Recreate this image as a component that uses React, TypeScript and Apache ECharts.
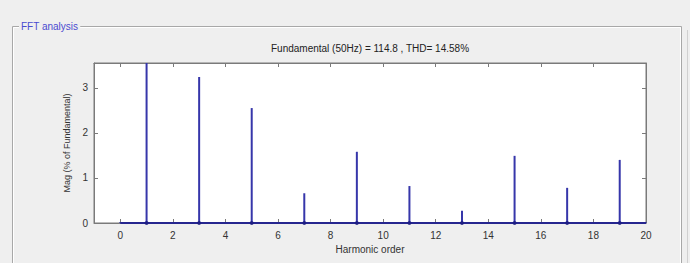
import React, { useEffect, useRef } from "react";
import * as echarts from "echarts";

const harmonics = [0, 1, 2, 3, 4, 5, 6, 7, 8, 9, 10, 11, 12, 13, 14, 15, 16, 17, 18, 19, 20];
const magnitudes = [0.02, 100, 0.01, 3.24, 0.01, 2.55, 0.01, 0.66, 0.01, 1.58, 0.01, 0.82, 0.01, 0.27, 0.01, 1.49, 0.01, 0.78, 0.01, 1.4, 0.01];
const xTicks = [0, 2, 4, 6, 8, 10, 12, 14, 16, 18, 20];
const yTicks = [0, 1, 2, 3];
const titleText = "Fundamental (50Hz) = 114.8 , THD= 14.58%";
const panelText = "FFT analysis";
const xName = "Harmonic order";
const yName = "Mag (% of Fundamental)";

export default function App() {
  const ref = useRef<HTMLDivElement>(null);
  useEffect(() => {
    if (!ref.current) return;
    const chart = echarts.init(ref.current, undefined, { renderer: "svg" });
    const font = "Liberation Sans, Arial, sans-serif";
    const axisColor = "#7a7a7a";
    const labelStyle = { color: "#333", fontSize: 10, fontFamily: font };
    const oddIdx = harmonics.filter((h) => h % 2 === 1 && h < 20);
    chart.setOption({
      animation: false,
      backgroundColor: "#efefef",
      grid: { left: 94, top: 63, width: 552, height: 160, show: true, backgroundColor: "#ffffff", borderColor: axisColor, borderWidth: 1 },
      xAxis: [
        {
          type: "value",
          min: -1,
          max: 20,
          position: "bottom",
          axisLine: { show: true, onZero: false, lineStyle: { color: axisColor } },
          axisTick: { show: true, inside: true, length: 4, customValues: xTicks, lineStyle: { color: axisColor } },
          axisLabel: { ...labelStyle, margin: 7, customValues: xTicks },
          splitLine: { show: false },
          name: xName,
          nameLocation: "middle",
          nameGap: 21,
          nameTextStyle: { ...labelStyle },
        },
        {
          type: "value",
          min: -1,
          max: 20,
          position: "top",
          axisLine: { show: true, onZero: false, lineStyle: { color: axisColor } },
          axisTick: { show: true, inside: true, length: 4, customValues: xTicks, lineStyle: { color: axisColor } },
          axisLabel: { show: false },
          splitLine: { show: false },
        },
      ],
      yAxis: [
        {
          type: "value",
          min: 0,
          max: 3.55,
          position: "left",
          axisLine: { show: true, onZero: false, lineStyle: { color: axisColor } },
          axisTick: { show: true, inside: true, length: 4, customValues: yTicks, lineStyle: { color: axisColor } },
          axisLabel: { ...labelStyle, margin: 6, customValues: yTicks },
          splitLine: { show: false },
          name: yName,
          nameLocation: "middle",
          nameRotate: 90,
          nameGap: 16,
          nameTextStyle: { ...labelStyle, fontSize: 9 },
        },
        {
          type: "value",
          min: 0,
          max: 3.55,
          position: "right",
          axisLine: { show: true, onZero: false, lineStyle: { color: axisColor } },
          axisTick: { show: true, inside: true, length: 4, customValues: yTicks, lineStyle: { color: axisColor } },
          axisLabel: { show: false },
          splitLine: { show: false },
        },
      ],
      series: [
        {
          type: "bar",
          xAxisIndex: 0,
          yAxisIndex: 0,
          barWidth: 2,
          clip: true,
          itemStyle: { color: "#3636aa" },
          data: harmonics.map((h, i) => [h, magnitudes[i]]),
        },
        {
          type: "line",
          xAxisIndex: 0,
          yAxisIndex: 0,
          symbol: "none",
          lineStyle: { color: "#26268f", width: 2 },
          data: harmonics.map((h) => [h, 0]),
          z: 3,
        },
        {
          type: "scatter",
          xAxisIndex: 0,
          yAxisIndex: 0,
          symbolSize: 4,
          itemStyle: { color: "#1c1c80" },
          data: oddIdx.map((h) => [h, 0]),
          z: 4,
        },
      ],
      graphic: [
        {
          type: "rect",
          shape: { x: 12.5, y: 26.5, width: 669, height: 260 },
          style: { fill: "none", stroke: "#a8a8a8", lineWidth: 1 },
          silent: true,
        },
        {
          type: "rect",
          shape: { x: 13.5, y: 27.5, width: 667, height: 258 },
          style: { fill: "none", stroke: "#ffffff", lineWidth: 1 },
          silent: true,
        },
        {
          type: "line",
          shape: { x1: 687.5, y1: 30, x2: 687.5, y2: 263 },
          style: { stroke: "#d0d0d0", lineWidth: 1 },
          silent: true,
        },
        {
          type: "text",
          x: 19,
          y: 26,
          style: {
            text: panelText,
            fontSize: 10,
            fontFamily: font,
            fill: "#4b4bcf",
            backgroundColor: "#efefef",
            padding: [0, 2, 0, 2],
            verticalAlign: "middle",
            align: "left",
          },
          silent: true,
        },
        {
          type: "text",
          x: 370,
          y: 48,
          style: {
            text: titleText,
            fontSize: 10,
            fontFamily: font,
            fill: "#222",
            align: "center",
            verticalAlign: "middle",
          },
          silent: true,
        },
      ],
    });
    return () => chart.dispose();
  }, []);
  return <div ref={ref} style={{ position: "absolute", left: 0, top: 0, width: 690, height: 263 }} />;
}
